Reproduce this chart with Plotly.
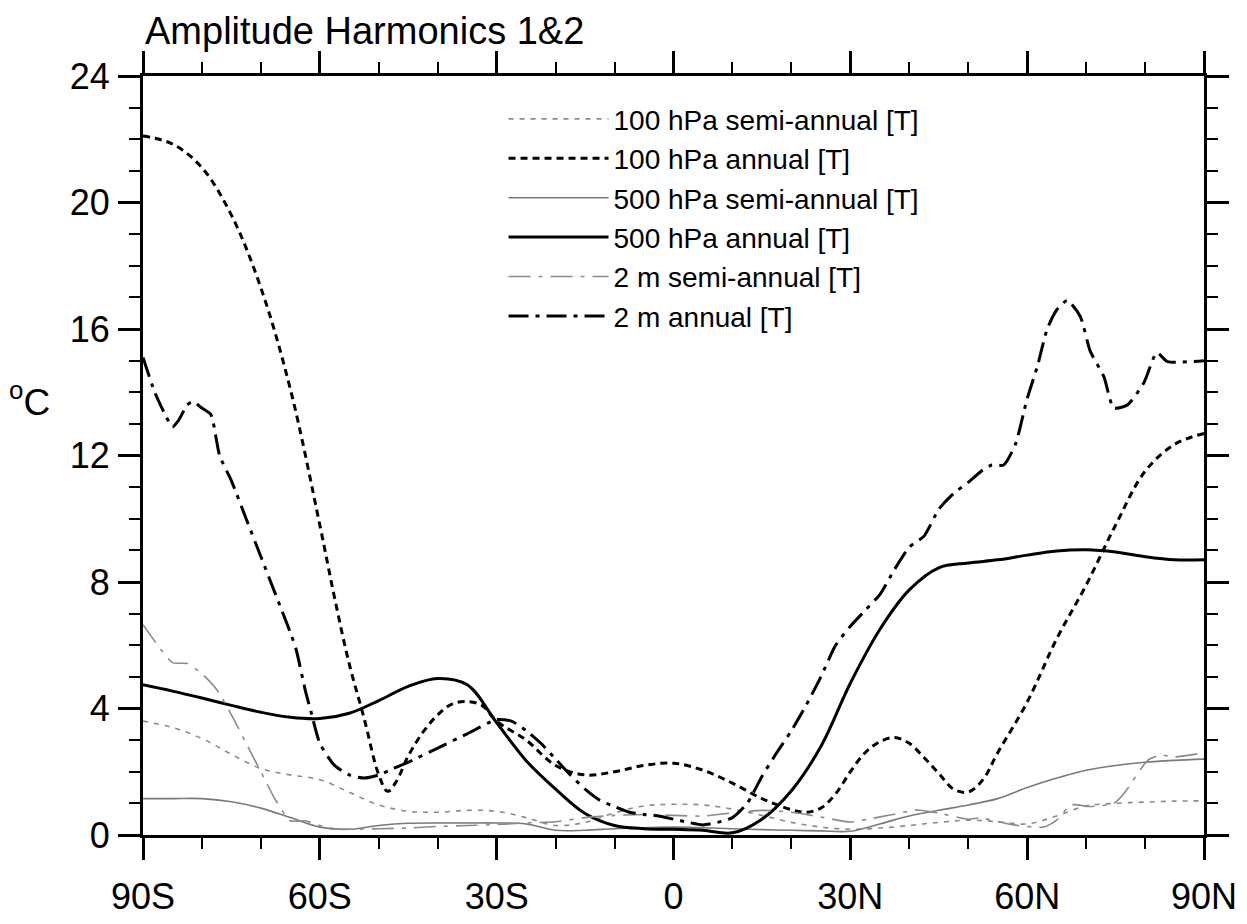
import plotly.graph_objects as go

# ---------------- data ----------------
lat5 = [-90, -85, -80, -75, -70, -65, -60, -55, -50, -45, -40, -35, -30, -25, -20, -15, -10, -5,
        0, 5, 10, 15, 20, 25, 30, 35, 40, 45, 50, 55, 60, 65, 70, 75, 80, 85, 90]

t100_semi = [3.6, 3.4, 3.05, 2.55, 2.1, 1.9, 1.75, 1.35, 0.95, 0.75, 0.72, 0.78, 0.75, 0.55, 0.3, 0.4,
             0.7, 0.92, 0.97, 0.95, 0.82, 0.62, 0.4, 0.25, 0.18, 0.22, 0.3, 0.4, 0.47, 0.42, 0.35,
             0.6, 0.92, 1.0, 1.04, 1.07, 1.08]

lat_t100_ann = [-90, -85, -80, -75, -70, -65, -60, -57.5, -55, -52.5, -50, -48.5, -47, -45, -42.5, -40,
                -37.5, -35, -32.5, -30, -25, -20, -15, -10, -5, 0, 5, 10, 15, 20, 22.5, 25, 27.5, 30,
                32.5, 35, 37.5, 40, 42.5, 45, 47.5, 50, 52.5, 55, 60, 65, 70, 75, 80, 85, 90]
t100_ann = [22.1, 21.85, 21.1, 19.6, 17.3, 14.1, 9.8, 7.5, 5.4, 3.7, 1.9, 1.38, 1.7, 2.5, 3.25, 3.8,
            4.15, 4.22, 4.1, 3.6, 3.0, 2.2, 1.9, 2.0, 2.2, 2.27, 2.05, 1.64, 1.15, 0.8, 0.72, 0.85, 1.3,
            2.0, 2.6, 2.95, 3.08, 2.9, 2.45, 1.95, 1.45, 1.36, 1.75, 2.6, 4.2, 6.2, 7.9, 9.8, 11.5,
            12.35, 12.7]

t500_semi = [1.15, 1.15, 1.15, 1.05, 0.85, 0.55, 0.25, 0.18, 0.3, 0.37, 0.38, 0.38, 0.38, 0.35, 0.15,
             0.15, 0.2, 0.23, 0.25, 0.23, 0.2, 0.17, 0.15, 0.13, 0.12, 0.35, 0.6, 0.78, 0.95, 1.15,
             1.5, 1.8, 2.05, 2.2, 2.3, 2.36, 2.4]

t500_ann = [4.75, 4.55, 4.33, 4.1, 3.88, 3.72, 3.68, 3.85, 4.25, 4.7, 4.95, 4.75, 3.55, 2.35, 1.45,
            0.68, 0.3, 0.2, 0.18, 0.15, 0.07, 0.5, 1.4, 2.8, 4.8, 6.5, 7.75, 8.45, 8.6, 8.7, 8.85,
            8.98, 9.02, 8.95, 8.8, 8.7, 8.7]

lat_t2_semi = [-90, -87.5, -85, -82.5, -80, -77.5, -75, -72.5, -70, -67.5, -65, -62.5, -60, -57.5,
               -55, -50, -45, -40, -35, -30, -25, -20, -15, -10, -5, 0, 5, 10, 15, 20, 25, 30,
               33, 36.7, 41.3, 45, 50, 52, 57.7, 62.8, 65, 67.4, 70.7, 74.7, 76.5, 80.5, 82.6,
               84.9, 90]
t2_semi = [6.65, 6.0, 5.45, 5.42, 5.1, 4.6, 3.8, 2.9, 2.0, 1.1, 0.45, 0.45, 0.3, 0.2, 0.18, 0.2,
           0.22, 0.27, 0.3, 0.33, 0.38, 0.42, 0.55, 0.62, 0.65, 0.62, 0.6, 0.7, 0.78, 0.72, 0.57,
           0.41, 0.5, 0.63, 0.79, 0.69, 0.5, 0.54, 0.32, 0.25, 0.47, 0.95, 0.9, 1.0, 1.33, 2.37,
           2.53, 2.47, 2.6]

lat_t2_ann = [-90, -88, -86, -85, -84, -82.5, -81.5, -80, -78.5, -77, -75, -72.5, -70, -67.5, -65,
              -64, -62.5, -61.5, -60, -57.5, -55, -52.5, -50, -47.5, -45, -40, -35, -30, -27.5,
              -25, -22.5, -20, -17.5, -15, -12.5, -10, -7.5, -5, -2.5, 0, 2.5, 5, 7.5, 10, 12.5,
              15, 17.5, 20, 22.5, 25, 27.5, 30, 32.5, 35, 37.5, 40, 42.5, 45, 47.5, 50, 52.5, 54,
              56, 58, 60, 61.7, 63.4, 65, 66.8, 69, 70.7, 73, 74.7, 77, 79.8, 82, 83.8, 90]
t2_ann = [15.1, 14.0, 13.2, 12.9, 13.1, 13.6, 13.7, 13.5, 13.3, 12.0, 11.2, 10.0, 8.8, 7.6, 6.4,
          5.85, 4.6, 3.9, 2.9, 2.2, 1.9, 1.8, 1.9, 2.1, 2.3, 2.75, 3.2, 3.65, 3.6, 3.3, 2.9, 2.4,
          1.9, 1.45, 1.1, 0.9, 0.72, 0.65, 0.6, 0.5, 0.4, 0.32, 0.4, 0.55, 1.0, 1.85, 2.6, 3.3,
          4.1, 5.0, 6.0, 6.6, 7.1, 7.6, 8.4, 9.1, 9.45, 10.3, 10.8, 11.15, 11.55, 11.7, 11.7,
          12.35, 13.8, 14.8, 16.0, 16.6, 16.9, 16.4, 15.3, 14.5, 13.5, 13.6, 14.3, 15.25, 14.97,
          15.0]

x_tickvals = [-90, -60, -30, 0, 30, 60, 90]
x_ticktext = ["90S", "60S", "30S", "0", "30N", "60N", "90N"]
y_tickvals = [0, 4, 8, 12, 16, 20, 24]

FONT = "Liberation Sans, Arial, Helvetica, sans-serif"

fig = go.Figure()

series = [
    ("100 hPa semi-annual [T]", lat5, t100_semi, dict(color="#8a8a8a", width=1.6, dash="5px,6px"), 1.0),
    ("100 hPa annual [T]", lat_t100_ann, t100_ann, dict(color="black", width=3, dash="7px,5px"), 1.0),
    ("500 hPa semi-annual [T]", lat5, t500_semi, dict(color="#7a7a7a", width=1.6), 1.0),
    ("500 hPa annual [T]", lat5, t500_ann, dict(color="black", width=3), 1.0),
    ("2 m semi-annual [T]", lat_t2_semi, t2_semi, dict(color="#8a8a8a", width=1.6, dash="22px,8px,4px,8px"), 0.6),
    ("2 m annual [T]", lat_t2_ann, t2_ann, dict(color="black", width=3, dash="20px,7px,4px,7px"), 0.6),
]
for name, xs, ys, ln, sm in series:
    ln = dict(ln, shape="spline", smoothing=sm)
    fig.add_trace(go.Scatter(x=xs, y=ys, mode="lines", name=name, line=ln))

axis_common = dict(
    showline=True, linecolor="black", linewidth=3, mirror="ticks",
    ticks="outside", ticklen=22, tickwidth=2.5, tickcolor="black",
    showgrid=False, zeroline=False, automargin=False,
    tickfont=dict(family=FONT, size=36, color="black"),
)

fig.update_xaxes(
    range=[-90, 90], tickvals=x_tickvals, ticktext=x_ticktext,
    minor=dict(dtick=10, ticks="outside", ticklen=11, tickwidth=2, tickcolor="black", showgrid=False),
    ticklabelstandoff=6,
    **axis_common,
)
fig.update_yaxes(
    range=[0, 24], tickvals=y_tickvals,
    minor=dict(dtick=1, ticks="outside", ticklen=11, tickwidth=2, tickcolor="black", showgrid=False),
    ticklabelstandoff=1,
    **axis_common,
)

fig.add_annotation(
    text="Amplitude Harmonics 1&2", xref="paper", yref="paper", x=0, y=1,
    xanchor="left", yanchor="bottom", yshift=22, showarrow=False,
    font=dict(family=FONT, size=38, color="black"),
)
fig.add_annotation(
    text="<sup>o</sup>C", xref="paper", yref="paper", x=0, y=0.574,
    xanchor="right", yanchor="middle", xshift=-91, showarrow=False,
    font=dict(family=FONT, size=37, color="black"),
)

fig.update_layout(
    width=1247, height=924,
    margin=dict(l=143, r=43, t=76, b=89, autoexpand=False),
    paper_bgcolor="white", plot_bgcolor="white",
    showlegend=True,
    legend=dict(
        x=0.3398, y=0.976, xanchor="left", yanchor="top",
        bgcolor="rgba(0,0,0,0)", borderwidth=0,
        font=dict(family=FONT, size=28, color="black"),
        itemwidth=100, tracegroupgap=0,
    ),
)

fig.write_html("out.html")
